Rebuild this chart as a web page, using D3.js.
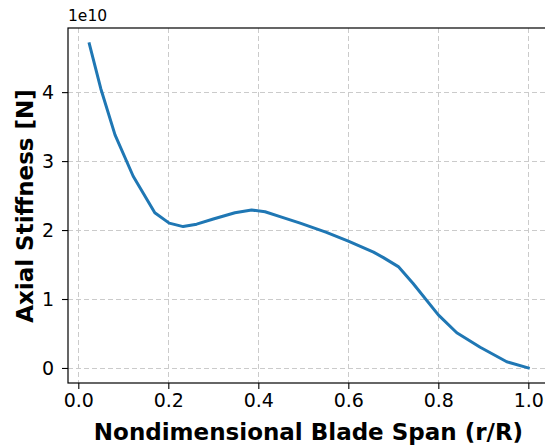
<!DOCTYPE html>
<html>
<head>
<meta charset="utf-8">
<script src="https://cdn.jsdelivr.net/npm/d3@7"></script>
<style>
  body { margin: 0; background: #fff; overflow: hidden; }
  text { font-family: "DejaVu Sans", sans-serif; }
</style>
</head>
<body>
<div id="wrapper"></div>
<script>
// blade span stations (r/R) and axial stiffness (x 1e10 N)
const span = [0.0245, 0.05, 0.0816, 0.122, 0.170, 0.202, 0.233, 0.263, 0.30, 0.348, 0.385, 0.415, 0.45, 0.493, 0.55, 0.60, 0.656, 0.678, 0.711, 0.744, 0.80, 0.841, 0.893, 0.952, 1.0]
const stiffness = [4.70, 4.05, 3.38, 2.78, 2.25, 2.10, 2.05, 2.085, 2.16, 2.25, 2.29, 2.265, 2.19, 2.10, 1.97, 1.84, 1.68, 1.60, 1.47, 1.225, 0.77, 0.51, 0.30, 0.09, 0.0]
const xTicks = [0.0, 0.2, 0.4, 0.6, 0.8, 1.0]
const yTicks = [0, 1, 2, 3, 4]

// plot box runs just past the right edge of the picture, as in the original
const dims = { width: 545, height: 447, left: 68, right: 547, top: 28, bottom: 383 }

const svg = d3.select("#wrapper")
    .append("svg")
    .attr("width", dims.width)
    .attr("height", dims.height)

const xScaler = d3.scaleLinear()
    .domain([-0.0229, 1.0415])
    .range([dims.left, dims.right])

const yScaler = d3.scaleLinear()
    .domain([-0.218, 4.93])
    .range([dims.bottom, dims.top])

// grid
const grid = svg.append("g")
    .attr("stroke", "#cbcbcb")
    .attr("stroke-width", 1)
    .attr("stroke-dasharray", "5,3")
grid.selectAll(".gx").data(xTicks).enter().append("line")
    .attr("x1", d => Math.round(xScaler(d)) + 0.5)
    .attr("x2", d => Math.round(xScaler(d)) + 0.5)
    .attr("y1", dims.top)
    .attr("y2", dims.bottom)
grid.selectAll(".gy").data(yTicks).enter().append("line")
    .attr("y1", d => Math.round(yScaler(d)) + 0.5)
    .attr("y2", d => Math.round(yScaler(d)) + 0.5)
    .attr("x1", dims.left)
    .attr("x2", dims.right)

// the curve
const line = d3.line()
    .x((d, i) => xScaler(span[i]))
    .y(d => yScaler(d))
svg.append("path")
    .datum(stiffness)
    .attr("d", line)
    .attr("fill", "none")
    .attr("stroke", "#1f77b4")
    .attr("stroke-width", 3)
    .attr("stroke-linejoin", "round")
    .attr("stroke-linecap", "square")

// axes
const xAxisGen = d3.axisBottom(xScaler)
    .tickValues(xTicks)
    .tickFormat(d3.format(".1f"))
    .tickSize(6)
    .tickPadding(5)
const xAxis = svg.append("g")
    .attr("transform", `translate(0,${dims.bottom})`)
    .call(xAxisGen)
xAxis.select(".domain").remove()
xAxis.selectAll("text")
    .attr("font-size", "19px")
    .attr("font-family", "DejaVu Sans")
    .attr("fill", "#000")

const yAxisGen = d3.axisLeft(yScaler)
    .tickValues(yTicks)
    .tickFormat(d3.format("d"))
    .tickSize(6)
    .tickPadding(8)
const yAxis = svg.append("g")
    .attr("transform", `translate(${dims.left},0)`)
    .call(yAxisGen)
yAxis.select(".domain").remove()
yAxis.selectAll("text")
    .attr("font-size", "19px")
    .attr("font-family", "DejaVu Sans")
    .attr("fill", "#000")
    .attr("dy", "0.35em")
svg.selectAll(".tick line").attr("stroke", "#000").attr("stroke-width", 1.1)

// frame
svg.append("rect")
    .attr("x", dims.left)
    .attr("y", dims.top)
    .attr("width", dims.right - dims.left)
    .attr("height", dims.bottom - dims.top)
    .attr("fill", "none")
    .attr("stroke", "#000")
    .attr("stroke-width", 1.2)

// labels
svg.append("text")
    .attr("x", dims.left)
    .attr("y", 21)
    .text("1e10")
    .attr("font-size", "15.5px")
    .attr("fill", "#000")

svg.append("text")
    .attr("x", 308.5)
    .attr("y", 440)
    .text("Nondimensional Blade Span (r/R)")
    .attr("font-size", "23px")
    .attr("font-weight", "bold")
    .attr("text-anchor", "middle")
    .attr("fill", "#000")

svg.append("text")
    .attr("transform", "translate(33,206) rotate(-90)")
    .text("Axial Stiffness [N]")
    .attr("font-size", "23px")
    .attr("font-weight", "bold")
    .attr("text-anchor", "middle")
    .attr("fill", "#000")
</script>
</body>
</html>
